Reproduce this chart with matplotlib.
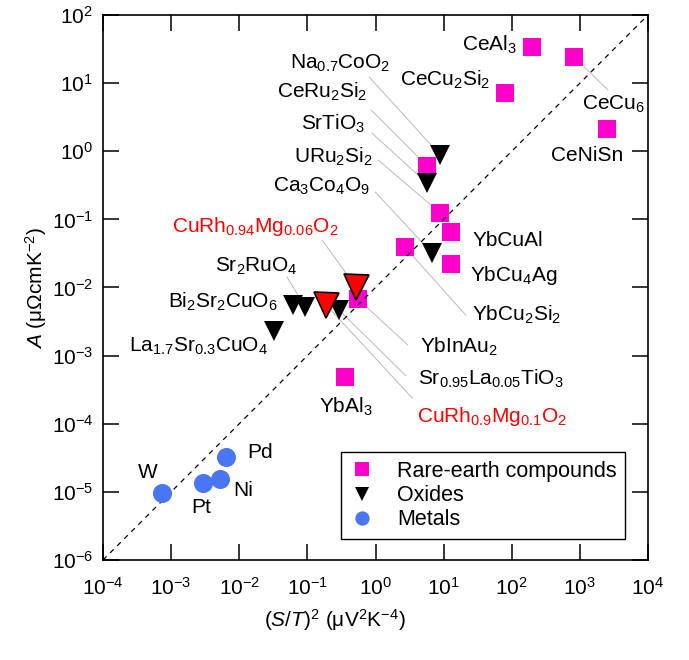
import matplotlib
matplotlib.use('Agg')
import matplotlib.pyplot as plt
from matplotlib.ticker import LogLocator, NullLocator
import numpy as np

plt.rcParams['font.family'] = ['Liberation Sans', 'DejaVu Sans']
plt.rcParams['mathtext.fontset'] = 'custom'
plt.rcParams['mathtext.rm'] = 'Liberation Sans'
plt.rcParams['mathtext.it'] = 'Liberation Sans:italic'
plt.rcParams['mathtext.default'] = 'regular'

# rare-earth (heavy fermion) compounds: (S/T)^2 in uV^2/K^4, A in uOhm cm/K^2
rare_names = ['CeAl$_3$', 'CeCu$_6$', 'CeCu$_2$Si$_2$', 'CeNiSn', 'CeRu$_2$Si$_2$',
              'URu$_2$Si$_2$', 'YbCuAl', 'YbCu$_2$Si$_2$', 'YbCu$_4$Ag',
              'YbInAu$_2$', 'YbAl$_3$']
rare_x = [200, 824, 80, 2520, 5.7, 8.9, 12.9, 2.7, 12.9, 0.55, 0.36]
rare_y = [34, 24, 7.2, 2.1, 0.61, 0.124, 0.065, 0.039, 0.022, 0.0068, 0.00048]

# oxides
oxide_names = ['Na$_{0.7}$CoO$_2$', 'SrTiO$_3$', 'Ca$_3$Co$_4$O$_9$', 'Sr$_2$RuO$_4$',
               'Bi$_2$Sr$_2$CuO$_6$', 'La$_{1.7}$Sr$_{0.3}$CuO$_4$',
               'Sr$_{0.95}$La$_{0.05}$TiO$_3$']
oxide_x = [8.9, 5.7, 6.8, 0.092, 0.062, 0.032, 0.29]
oxide_y = [0.88, 0.34, 0.032, 0.0052, 0.0055, 0.0023, 0.0047]

# CuRh1-xMgxO2 (this work, red)
curh_names = ['CuRh$_{0.94}$Mg$_{0.06}$O$_2$', 'CuRh$_{0.9}$Mg$_{0.1}$O$_2$']
curh_x = [0.52, 0.19]
curh_y = [0.0101, 0.0055]

# metals
metal_names = ['W', 'Pt', 'Ni', 'Pd']
metal_x = [7.3e-4, 2.9e-3, 5.2e-3, 6.4e-3]
metal_y = [9.6e-6, 1.34e-5, 1.53e-5, 3.2e-5]

# label placement: text offset (px), alignment, leader line start offset (px)
label_pos = {
    'CeAl$_3$': (-15, 2, 'right', None),
    'CeCu$_6$': (8, -47, 'left', (34, -33)),
    'CeCu$_2$Si$_2$': (-15, 13, 'right', None),
    'CeNiSn': (-20, -26, 'center', None),
    'CeRu$_2$Si$_2$': (-60, 74, 'right', (-56, 56)),
    'URu$_2$Si$_2$': (-67, 56, 'right', (-62, 53)),
    'YbCuAl': (21, -8, 'left', None),
    'YbCu$_2$Si$_2$': (67, -68, 'left', (61, -68)),
    'YbCu$_4$Ag': (19, -11, 'left', None),
    'YbInAu$_2$': (62, -48, 'left', (50, -46)),
    'YbAl$_3$': (1, -30, 'center', None),
    'Na$_{0.7}$CoO$_2$': (-50, 92, 'right', (-71, 78)),
    'SrTiO$_3$': (-62, 59, 'right', (-55, 50)),
    'Ca$_3$Co$_4$O$_9$': (-62, 67, 'right', (-57, 61)),
    'Sr$_2$RuO$_4$': (-7, 40, 'right', (-18, 30)),
    'Bi$_2$Sr$_2$CuO$_6$': (-15, 3, 'right', None),
    'La$_{1.7}$Sr$_{0.3}$CuO$_4$': (-6, -15, 'right', None),
    'Sr$_{0.95}$La$_{0.05}$TiO$_3$': (79, -69, 'left', (67, -66)),
    'CuRh$_{0.94}$Mg$_{0.06}$O$_2$': (-18, 61, 'right', (-34, 47)),
    'CuRh$_{0.9}$Mg$_{0.1}$O$_2$': (91, -111, 'left', (86, -93)),
    'W': (-14, 21, 'center', None),
    'Pt': (-1, -24, 'center', None),
    'Ni': (23, -11, 'center', None),
    'Pd': (34, 5, 'center', None),
}

x_range = [1e-4, 1e4]
y_range = [1e-6, 1e2]

fig = plt.figure(figsize=(6.89, 6.6), dpi=100)
ax = fig.add_axes([0.1495, 0.1515, 0.791, 0.8258])
ax.set_xscale('log')
ax.set_yscale('log')

# A / (S/T)^2 = 0.01 guide line
diag = np.array(x_range)
ax.plot(diag, diag * 1e-2, color='black', lw=0.9, dashes=(4, 4), zorder=2.5)

magenta = '#ff00cc'
blue = '#4876f5'
ax.plot(rare_x, rare_y, 's', color=magenta, ms=13.5, mew=0, zorder=2,
        label='Rare-earth compounds')
ax.plot(oxide_x, oxide_y, 'v', color='black', ms=14, mew=0, zorder=3, label='Oxides')
ax.plot(curh_x, curh_y, 'v', mfc='#ff0000', mec='black', ms=18, mew=1.2, zorder=3.5)
ax.plot(metal_x, metal_y, 'o', color=blue, ms=13.7, mew=0, zorder=3, label='Metals')

all_names = rare_names + oxide_names + curh_names + metal_names
all_x = rare_x + oxide_x + curh_x + metal_x
all_y = rare_y + oxide_y + curh_y + metal_y
for name, xv, yv in zip(all_names, all_x, all_y):
    dx, dy, ha, line = label_pos[name]
    col = 'red' if name in curh_names else 'black'
    ax.annotate(name, (xv, yv), xytext=(dx, dy), textcoords='offset pixels',
                ha=ha, va='center', fontsize=15, color=col, zorder=5)
    if line is not None:
        ax.annotate('', (xv, yv), xytext=line, textcoords='offset pixels',
                    arrowprops=dict(arrowstyle='-', color='#bbbbbb', lw=0.7,
                                    shrinkA=0, shrinkB=0), zorder=1)

ax.set_xlim(x_range)
ax.set_ylim(y_range)
ax.xaxis.set_major_locator(LogLocator(base=10, numticks=20))
ax.yaxis.set_major_locator(LogLocator(base=10, numticks=20))
ax.xaxis.set_minor_locator(NullLocator())
ax.yaxis.set_minor_locator(NullLocator())
ax.tick_params(which='major', direction='in', length=11.5, width=1.1,
               top=True, right=True, labelsize=15)
ax.tick_params(axis='x', pad=12)
ax.tick_params(axis='y', pad=7)
for sp in ax.spines.values():
    sp.set_linewidth(1.2)

ax.set_xlabel(r'($\mathit{S/T}$)$^2$ (μV$^2$K$^{-4}$)', fontsize=15)
ax.set_ylabel(r'$\mathit{A}$ (μΩcmK$^{-2}$)', fontsize=15)
ax.xaxis.set_label_coords(0.4257, -0.086)
ax.yaxis.set_label_coords(-0.1, 0.5)

leg = ax.legend(loc='lower right', bbox_to_anchor=(0.958, 0.0385), borderaxespad=0,
                fontsize=15.5, frameon=True, fancybox=False, framealpha=1,
                edgecolor='black', markerscale=0.75, handlelength=1.2,
                handletextpad=1.0, labelspacing=0.15, borderpad=0.4)
leg.get_frame().set_linewidth(1.0)

fig.savefig('out.png', dpi=100)
